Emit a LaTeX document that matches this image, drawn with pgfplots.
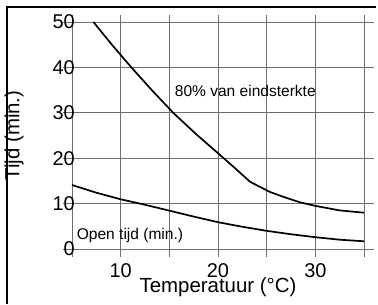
\documentclass[border=0pt]{standalone}
\usepackage{pgfplots}
\pgfplotsset{compat=1.18}
\usepackage{fontspec}
\setmainfont{Liberation Sans}
\definecolor{gridgray}{RGB}{110,110,110}
\begin{document}
\begin{tikzpicture}
\path (0bp,0bp) rectangle (378bp,-304bp);
% grid (decoration, as thin filled bars matching the axis box)
\foreach \i in {0,...,6} {
  \fill[gridgray] ({72bp+\i*48.6667bp-0.5bp},-257bp) rectangle ({72bp+\i*48.6667bp+0.5bp},-14.5bp);
}
\foreach \j in {0,...,5} {
  \fill[gridgray] (63bp,{-249bp+\j*45.4bp-0.5bp}) rectangle (374bp,{-249bp+\j*45.4bp+0.5bp});
}
\begin{axis}[
  at={(72bp,-249bp)}, anchor=south west,
  scale only axis, width=292bp, height=227bp,
  xmin=5, xmax=35, ymin=0, ymax=50,
  xtick={5,10,15,20,25,30,35},
  xticklabels={,10,,20,,30,},
  ytick={0,10,20,30,40,50},
  yticklabels={0,10,20,30,40,50},
  axis line style={draw=none},
  tick style={draw=none},
  major tick length=0pt,
  tick label style={font=\fontsize{20}{24}\selectfont},
  yticklabel style={inner sep=0pt, anchor=east, xshift=3bp},
  xticklabel style={inner sep=0pt, anchor=north, yshift=-14bp},
  xlabel={Temperatuur (°C)},
  ylabel={Tijd (min.)},
  every axis x label/.style={at={(axis description cs:0.5,0)}, anchor=center, yshift=-38bp, font=\fontsize{20.5}{24}\selectfont},
  every axis y label/.style={at={(axis description cs:0,0.5)}, anchor=center, xshift=-58bp, rotate=90, font=\fontsize{20.5}{24}\selectfont},
  clip=false,
]
\addplot[black, line width=1.7bp] coordinates {
(7.2,50) (9.1,45) (11.1,40) (13.2,35) (15.4,30) (17.7,25.4) (20,21.1) (21.7,17.9) (23.3,14.8) (25.3,12.6) (26.7,11.5) (28.4,10.3) (30,9.5) (32.5,8.5) (35,8.0)
};
\addplot[black, line width=1.7bp] coordinates {
(5,14.1) (7.5,12.4) (10,10.95) (12,10) (15,8.45) (17.1,7.35) (20,5.9) (22.5,4.9) (25,4.0) (27.5,3.25) (30,2.6) (32.5,2.05) (35,1.7)
};
\node[anchor=base west, inner sep=0, font=\fontsize{15.6}{18}\selectfont] at (axis cs:15.55,33.55) {80\% van eindsterkte};
\node[anchor=base west, inner sep=0, font=\fontsize{15.6}{18}\selectfont] at (axis cs:5.48,2.0) {Open tijd (min.)};
\end{axis}
\draw[line width=1.3bp] (7bp,-304bp) -- (7bp,-7bp) -- (376bp,-7bp);
\end{tikzpicture}
\end{document}
